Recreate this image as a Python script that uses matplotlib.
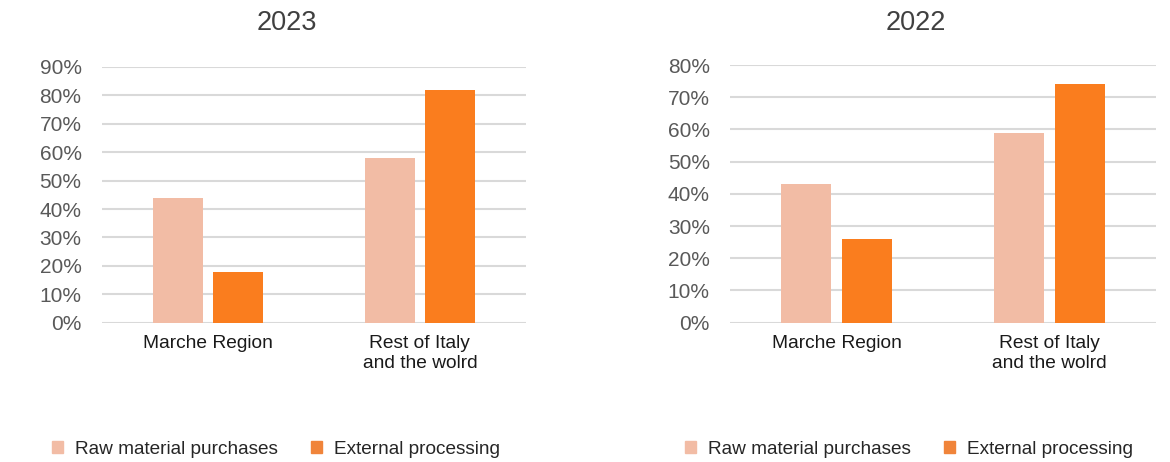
import numpy as np
import matplotlib
matplotlib.use('Agg')
from matplotlib import pyplot as plt
from matplotlib.patches import Patch

plt.rcParams['font.family'] = ['Liberation Sans', 'DejaVu Sans']

categories = ['Marche Region', 'Rest of Italy\nand the wolrd']
series = ['Raw material purchases', 'External processing']
years = ['2023', '2022']
raw_2023 = [44, 58]
ext_2023 = [18, 82]
raw_2022 = [43, 59]
ext_2022 = [26, 74]
ymax = [90, 80]

c_raw = '#f2bca5'
c_ext = '#fa7d1e'
c_ext_leg = '#f0843a'

fig = plt.figure(figsize=(11.7, 4.62), dpi=100)
W, H = 1170, 462
# left, top, width in pixels
boxes = [(101.7, 67, 424.3), (730, 65, 426)]
title_x = [287, 916]
legend_x = [52, 685]

data = [(raw_2023, ext_2023), (raw_2022, ext_2022)]
x = np.arange(len(categories))
w = 0.236
off = 0.142

for i, (left, top, width) in enumerate(boxes):
    bottom = 322.7
    ax = fig.add_axes([left / W, 1 - bottom / H, width / W, (bottom - top) / H])
    raw, ext = data[i]
    ax.bar(x - off, raw, w, color=c_raw, zorder=3)
    ax.bar(x + off, ext, w, color=c_ext, zorder=3)
    ax.set_xlim(-0.5, 1.5)
    ax.set_ylim(0, ymax[i])
    ax.set_yticks(np.arange(0, ymax[i] + 1, 10))
    ax.set_yticklabels(['%d%%' % v for v in np.arange(0, ymax[i] + 1, 10)])
    ax.set_xticks(x)
    ax.set_xticklabels(categories, fontsize=13.8, color='#1a1a1a', linespacing=1.25)
    ax.tick_params(axis='y', labelsize=15, colors='#595959', length=0, pad=14.5)
    ax.tick_params(axis='x', length=0, pad=9)
    ax.grid(axis='y', color='#d9d9d9', linewidth=1.5, zorder=0)
    for s in ax.spines.values():
        s.set_visible(False)
    fig.text(title_x[i] / W, 1 - 23 / H, years[i], ha='center', va='center',
             fontsize=19.5, color='#404040')
    handles = [Patch(color=c_raw), Patch(color=c_ext_leg)]
    fig.legend(handles, series, loc='center left',
               bbox_to_anchor=(legend_x[i] / W, 1 - 449 / H),
               ncol=2, frameon=False, fontsize=13.7, borderpad=0,
               borderaxespad=0, handlelength=0.6, handleheight=0.6,
               handletextpad=0.6, columnspacing=1.75, labelcolor='#262626')

plt.savefig('out.png', dpi=100)
